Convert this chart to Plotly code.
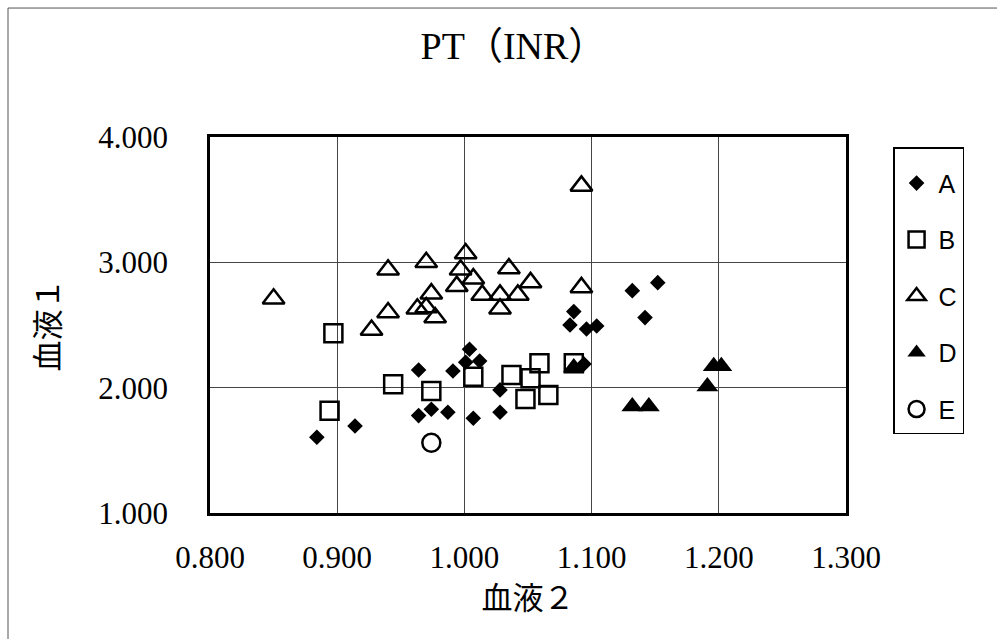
import plotly.graph_objects as go

# ---- data ----
a_x = [0.884, 0.914, 0.964, 0.964, 0.974, 0.987, 0.991, 1.004, 1.001, 1.012, 1.007,
       1.028, 1.028, 1.086, 1.083, 1.096, 1.104, 1.094, 1.132, 1.152, 1.142]
a_y = [1.604, 1.694, 2.141, 1.777, 1.828, 1.804, 2.133, 2.306, 2.203, 2.213, 1.756,
       1.982, 1.804, 2.607, 2.500, 2.468, 2.492, 2.189, 2.774, 2.838, 2.559]

b_x = [0.897, 0.894, 0.944, 0.974, 1.007, 1.037, 1.052, 1.048, 1.066, 1.059, 1.086]
b_y = [2.434, 1.816, 2.027, 1.974, 2.088, 2.101, 2.075, 1.910, 1.942, 2.195, 2.195]

c_x = [0.850, 0.940, 0.970, 1.001, 0.997, 1.007, 0.994, 1.014, 1.028, 1.028, 0.940,
       0.927, 0.974, 0.963, 0.970, 0.977, 1.035, 1.052, 1.042, 1.092, 1.092]
c_y = [2.71, 2.94, 3.00, 3.07, 2.94, 2.87, 2.81, 2.74, 2.74, 2.63, 2.60,
       2.46, 2.75, 2.63, 2.64, 2.56, 2.95, 2.84, 2.74, 3.61, 2.80]

d_x = [1.086, 1.132, 1.145, 1.196, 1.202, 1.191]
d_y = [2.16, 1.85, 1.85, 2.17, 2.17, 2.01]

e_x = [0.974]
e_y = [1.561]

x_ticks = [0.8, 0.9, 1.0, 1.1, 1.2, 1.3]
y_ticks = [1.0, 2.0, 3.0, 4.0]

SERIF = "Liberation Serif, Noto Sans CJK JP, serif"

fig = go.Figure()
series = [
    ("A", a_x, a_y, dict(symbol="diamond", size=12, color="black", line=dict(width=0))),
    ("B", b_x, b_y, dict(symbol="square-open", size=18, color="black", line=dict(width=2.5, color="black"))),
    ("C", c_x, c_y, dict(symbol="triangle-up-open", size=19, color="black", line=dict(width=2.5, color="black"))),
    ("D", d_x, d_y, dict(symbol="triangle-up", size=19, color="black", line=dict(width=0))),
    ("E", e_x, e_y, dict(symbol="circle-open", size=18, color="black", line=dict(width=2.5, color="black"))),
]
for name, xs, ys, mk in series:
    fig.add_trace(go.Scatter(x=xs, y=ys, mode="markers", name=name, marker=mk,
                             legendgroup=name))

# outer chart frame (thin scanned border)
shape_line = dict(color="#555", width=1)
fig.add_shape(type="line", xref="paper", yref="paper", x0=-0.3176, x1=1.25, y0=1.343, y1=1.343, line=shape_line)
fig.add_shape(type="line", xref="paper", yref="paper", x0=-0.3176, x1=-0.3176, y0=1.343, y1=-0.34, line=shape_line)

fig.update_layout(
    width=997, height=639,
    margin=dict(l=210, r=151, t=137, b=126),
    paper_bgcolor="white", plot_bgcolor="white",
    title=dict(text="PT（INR）", x=0.515, xref="container", xanchor="center",
               y=1 - 46 / 639, yref="container", yanchor="middle",
               font=dict(family=SERIF, size=38, color="black")),
    showlegend=True,
    legend=dict(x=1.074, xanchor="left", y=0.973, yanchor="top",
                bordercolor="black", borderwidth=1.5, bgcolor="white",
                title=dict(text=" ", font=dict(size=9)),
                font=dict(family="Liberation Sans, Arial, sans-serif", size=25, color="black"),
                tracegroupgap=21, itemsizing="trace", itemwidth=34),
    font=dict(family=SERIF, color="black"),
)
fig.update_xaxes(range=[0.8, 1.3], tickvals=x_ticks, tickformat=".3f",
                 showgrid=True, gridcolor="#444", gridwidth=1,
                 showline=True, linecolor="black", linewidth=2.5, mirror=True,
                 ticks="", ticklabelstandoff=15, zeroline=False,
                 tickfont=dict(family=SERIF, size=31, color="black"),
                 title=dict(text="血液２", font=dict(family=SERIF, size=31, color="black"), standoff=14))
fig.update_yaxes(range=[1.0, 4.0], tickvals=y_ticks, tickformat=".3f",
                 showgrid=True, gridcolor="#444", gridwidth=1,
                 showline=True, linecolor="black", linewidth=2.5, mirror=True,
                 ticks="", ticklabelstandoff=33, zeroline=False,
                 tickfont=dict(family=SERIF, size=31, color="black"),
                 title=dict(text="血液１", font=dict(family=SERIF, size=31, color="black"), standoff=30))

fig.write_html("out.html")
